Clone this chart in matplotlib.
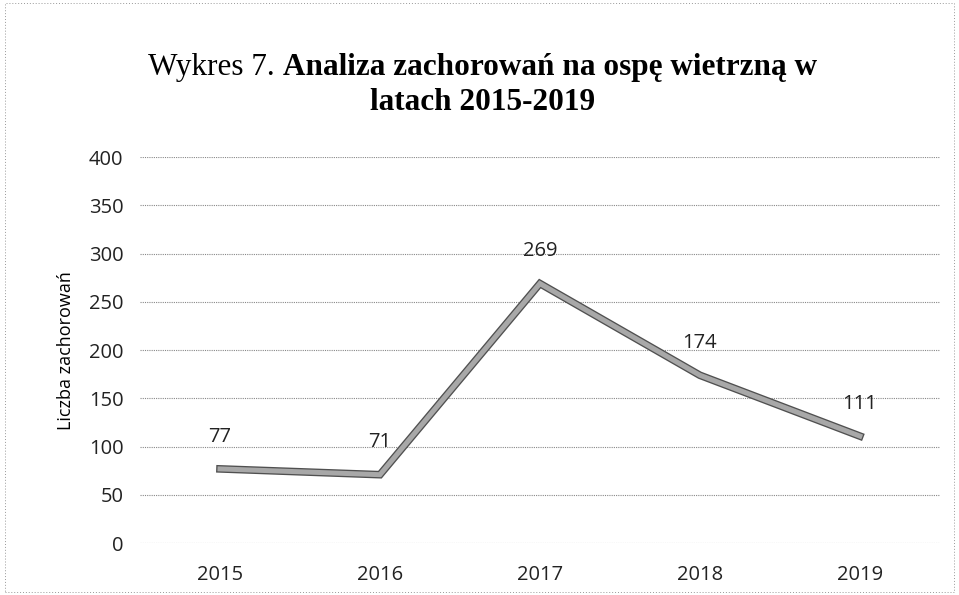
import matplotlib.pyplot as plt
import matplotlib.patheffects as pe
from matplotlib.patches import Rectangle

# dane z wykresu
years = ["2015", "2016", "2017", "2018", "2019"]
cases = [77, 71, 269, 174, 111]
y_ticks = [0, 50, 100, 150, 200, 250, 300, 350, 400]

fig = plt.figure(figsize=(9.59, 5.95), dpi=100)
ax = fig.add_axes([0.146, 0.087, 0.834, 0.649])

x = range(len(years))
ax.plot(x, cases, color="#a8a8a8", lw=3.6, solid_joinstyle="miter",
        path_effects=[pe.Stroke(linewidth=5.5, foreground="#505050"), pe.Normal()])

for xi, v in zip(x, cases):
    ax.annotate(str(v), (xi, v), xytext=(0, 16), textcoords="offset points",
                ha="center", va="bottom", fontsize=14.5, family="Open Sans", color="#222")

ax.set_xlim(-0.5, len(years) - 0.5)
ax.set_ylim(0, 400)
ax.set_xticks(list(x))
ax.set_xticklabels(years)
ax.set_yticks(y_ticks)
ax.grid(axis="y", color="#888", lw=0.8, ls=(0, (1, 1)))
ax.set_axisbelow(True)
for s in ax.spines.values():
    s.set_visible(False)
ax.tick_params(axis="y", length=0, labelsize=14.5, pad=12)
ax.tick_params(axis="x", length=0, labelsize=14.5, pad=16)
for lbl in ax.get_xticklabels() + ax.get_yticklabels():
    lbl.set_family("Open Sans")
    lbl.set_color("#222")
ax.set_ylabel("Liczba zachorowań", fontsize=13, family="Open Sans", labelpad=10)

# tytuł: część zwykła + część pogrubiona
r = fig.canvas.get_renderer()
part1 = "Wykres 7. "
part2 = "Analiza zachorowań na ospę wietrzną w"
t1 = fig.text(0, 0.874, part1, fontsize=22.5, family="Liberation Serif", va="baseline")
t2 = fig.text(0, 0.874, part2, fontsize=22.5, family="Liberation Serif",
              weight="bold", va="baseline")
w1 = t1.get_window_extent(r).width / fig.bbox.width
w2 = t2.get_window_extent(r).width / fig.bbox.width
start = 0.503 - (w1 + w2) / 2
t1.set_x(start)
t2.set_x(start + w1)
fig.text(0.503, 0.815, "latach 2015-2019", fontsize=22.5, family="Liberation Serif",
         weight="bold", ha="center", va="baseline")

fig.patches.append(Rectangle((0.005, 0.005), 0.99, 0.99, transform=fig.transFigure,
                             fill=False, ec="#999", lw=0.7, ls=(0, (1, 2))))

fig.savefig("out.png", dpi=100)
